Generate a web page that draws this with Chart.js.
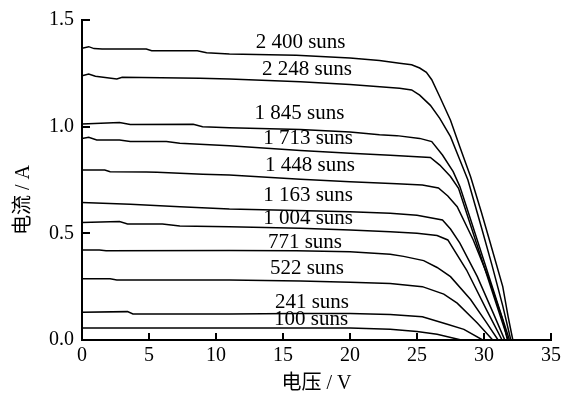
<!DOCTYPE html>
<html>
<head>
<meta charset="utf-8">
<script src="https://cdn.jsdelivr.net/npm/chart.js@4/dist/chart.umd.min.js"></script>
<style>
  body { margin: 0; background: #fff; }
</style>
</head>
<body>
<canvas id="myChart" width="568" height="400"></canvas>
<script>
// concentration of each I-V curve (suns)
const suns = [2400, 2248, 1845, 1713, 1448, 1163, 1004, 771, 522, 241, 100];

// voltage (V) and current (A)
const v2400 = [0, 0.5, 0.9, 1.5, 4.8, 5.2, 8.6, 9.3, 11, 16, 20, 22.2, 23.7, 24.6, 25.2, 25.7, 26.1, 26.7, 27.5, 28.2, 29.0, 29.8, 30.4, 31.4, 31.8, 32.15];
const i2400 = [1.367, 1.375, 1.366, 1.364, 1.364, 1.356, 1.356, 1.347, 1.341, 1.335, 1.322, 1.31, 1.297, 1.29, 1.275, 1.255, 1.22, 1.14, 1.03, 0.905, 0.765, 0.6, 0.47, 0.25, 0.11, 0];
const v2248 = [0, 0.5, 1.0, 2.6, 3.0, 8.8, 11, 16.3, 20, 23.7, 24.6, 25.2, 26.0, 26.7, 27.5, 28.2, 28.8, 29.8, 30.6, 31.4, 32.0];
const i2248 = [1.238, 1.247, 1.236, 1.224, 1.232, 1.227, 1.224, 1.211, 1.198, 1.18, 1.172, 1.148, 1.10, 1.039, 0.953, 0.844, 0.75, 0.53, 0.35, 0.16, 0];
const v1845 = [0, 2.8, 3.6, 8.3, 9.0, 11, 16.3, 20, 22.2, 23.5, 25.2, 26.1, 26.9, 27.7, 28.2, 29, 30, 31, 31.9];
const i1845 = [1.013, 1.02, 1.01, 1.011, 1.0, 0.995, 0.987, 0.975, 0.962, 0.958, 0.945, 0.93, 0.867, 0.789, 0.719, 0.565, 0.37, 0.175, 0];
const v1713 = [0, 0.5, 1.1, 2.8, 3.6, 6.3, 7.3, 11, 16.3, 20, 23, 26.0, 26.7, 27.5, 28.1, 29, 30, 31, 31.8];
const i1713 = [0.945, 0.95, 0.938, 0.938, 0.93, 0.93, 0.922, 0.911, 0.888, 0.875, 0.866, 0.856, 0.82, 0.766, 0.711, 0.538, 0.346, 0.154, 0];
const v1448 = [0, 1.7, 2.1, 4.8, 5.6, 9.0, 11, 16.3, 20, 23.5, 25.4, 26.6, 27.3, 28.0, 29.2, 30.4, 31.4, 31.75];
const i1448 = [0.797, 0.797, 0.789, 0.788, 0.786, 0.777, 0.774, 0.753, 0.742, 0.732, 0.727, 0.713, 0.675, 0.625, 0.469, 0.281, 0.094, 0];
const v1163 = [0, 3.6, 7.3, 11, 16, 20, 23, 25, 26.9, 27.5, 28.2, 29.5, 30.7, 31.55];
const i1163 = [0.644, 0.636, 0.625, 0.614, 0.607, 0.601, 0.594, 0.585, 0.5625, 0.52, 0.454, 0.297, 0.125, 0];
const v1004 = [0, 2.8, 3.4, 6, 7.3, 11, 16.3, 20, 23, 25, 26.5, 27.3, 28.7, 30.2, 31.35];
const i1004 = [0.551, 0.555, 0.544, 0.544, 0.534, 0.531, 0.524, 0.516, 0.508, 0.5, 0.49, 0.469, 0.328, 0.14, 0];
const v771 = [0, 1.3, 1.8, 11, 16, 20, 23, 24, 25.5, 26.5, 27.5, 29, 30.2, 31.05];
const i771 = [0.422, 0.422, 0.418, 0.42, 0.418, 0.414, 0.402, 0.392, 0.372, 0.34, 0.297, 0.19, 0.08, 0];
const v522 = [0, 2.1, 2.6, 11, 16.3, 20, 23, 25.4, 27, 28, 29.5, 30.65];
const i522 = [0.287, 0.287, 0.281, 0.281, 0.276, 0.271, 0.265, 0.25, 0.215, 0.173, 0.08, 0];
const v241 = [0, 3.4, 3.8, 11, 16, 20, 23, 25.4, 27.2, 28.5, 29.9];
const i241 = [0.13, 0.133, 0.122, 0.122, 0.124, 0.124, 0.12, 0.109, 0.075, 0.05, 0];
const v100 = [0, 11, 20, 23, 25, 26.5, 28.3];
const i100 = [0.056, 0.056, 0.056, 0.05, 0.04, 0.027, 0];

const voltages = [v2400, v2248, v1845, v1713, v1448, v1163, v1004, v771, v522, v241, v100];
const currents = [i2400, i2248, i1845, i1713, i1448, i1163, i1004, i771, i522, i241, i100];

// where each "... suns" label is centred (V, A)
const labelV = [16.31, 16.79, 16.23, 16.87, 17.01, 16.87, 16.87, 16.64, 16.79, 17.16, 17.09];
const labelA = [1.394, 1.267, 1.064, 0.943, 0.819, 0.677, 0.568, 0.457, 0.336, 0.178, 0.095];

// axes
const xMin = 0, xMax = 35, xStep = 5;
const yMin = 0, yMax = 1.5, yStep = 0.5;

const FONT = "'Liberation Serif', 'Noto Sans CJK SC', serif";

function sunsText(n) {
  if (n < 1000) return n + ' suns';
  return Math.floor(n / 1000) + ' ' + String(n % 1000).padStart(3, '0') + ' suns';
}

// build the datasets
const datasets = suns.map(function (s, k) {
  return {
    label: sunsText(s),
    data: voltages[k].map(function (v, j) { return { x: v, y: currents[k][j] }; }),
    showLine: true,
    borderColor: '#000',
    borderWidth: 1.5,
    pointRadius: 0,
    tension: 0,
    fill: false
  };
});

// inward tick marks on both axes
const innerTicks = {
  id: 'innerTicks',
  afterDraw(chart) {
    const ctx = chart.ctx;
    const x = chart.scales.x, y = chart.scales.y;
    const area = chart.chartArea;
    ctx.save();
    ctx.strokeStyle = '#000';
    ctx.lineWidth = 2;
    ctx.beginPath();
    x.ticks.forEach(function (t) {
      if (t.value === xMin) return;
      const px = Math.round(x.getPixelForValue(t.value));
      ctx.moveTo(px, area.bottom);
      ctx.lineTo(px, area.bottom - 7);
    });
    y.ticks.forEach(function (t) {
      if (t.value === yMin) return;
      const py = Math.round(y.getPixelForValue(t.value));
      ctx.moveTo(area.left, py);
      ctx.lineTo(area.left + 8, py);
    });
    ctx.stroke();
    ctx.restore();
  }
};

// curve labels
const curveLabels = {
  id: 'curveLabels',
  afterDatasetsDraw(chart) {
    const ctx = chart.ctx;
    const x = chart.scales.x, y = chart.scales.y;
    ctx.save();
    ctx.fillStyle = '#000';
    ctx.font = '21px ' + FONT;
    ctx.textAlign = 'center';
    ctx.textBaseline = 'middle';
    suns.forEach(function (s, k) {
      ctx.fillText(sunsText(s), x.getPixelForValue(labelV[k]), y.getPixelForValue(labelA[k]));
    });
    ctx.restore();
  }
};

// config
const config = {
  type: 'scatter',
  data: { datasets: datasets },
  options: {
    responsive: false,
    animation: false,
    layout: { padding: { top: 18, right: 17, left: 0, bottom: 0 } },
    plugins: {
      legend: { display: false },
      tooltip: { enabled: false }
    },
    scales: {
      x: {
        type: 'linear',
        min: xMin,
        max: xMax,
        afterFit: function (scale) { scale.height = 60; },
        grid: { display: false, drawTicks: false },
        border: { display: true, color: '#000', width: 2 },
        ticks: {
          stepSize: xStep,
          padding: 4,
          color: '#000',
          font: { family: FONT, size: 20 },
          maxRotation: 0
        },
        title: {
          display: true,
          text: '电压 / V',
          color: '#000',
          font: { family: FONT, size: 20 },
          padding: { top: 0, bottom: 4 }
        }
      },
      y: {
        type: 'linear',
        min: yMin,
        max: yMax,
        afterFit: function (scale) { scale.width = 82; },
        grid: { display: false, drawTicks: false },
        border: { display: true, color: '#000', width: 2 },
        ticks: {
          stepSize: yStep,
          padding: 8,
          color: '#000',
          font: { family: FONT, size: 20 },
          callback: function (v) { return v.toFixed(1); }
        },
        title: {
          display: true,
          // two em spaces push the title a little below the axis middle, as in the original
          text: '电流 / A\u2003\u2003',
          color: '#000',
          font: { family: FONT, size: 20 },
          padding: { top: 12, bottom: 0 }
        }
      }
    }
  },
  plugins: [innerTicks, curveLabels]
};

// render init block
const myChart = new Chart(document.getElementById('myChart'), config);
</script>
</body>
</html>
